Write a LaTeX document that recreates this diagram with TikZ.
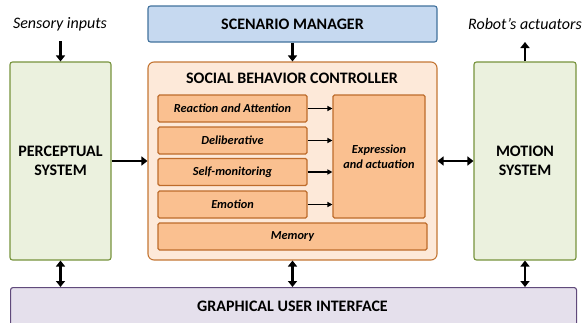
\documentclass[tikz,border=0pt]{standalone}
\usepackage{fontspec}
\setmainfont{Carlito}
\usetikzlibrary{arrows.meta}
\definecolor{scenfill}{RGB}{198,217,240}
\definecolor{scenline}{RGB}{65,113,156}
\definecolor{sbcfill}{RGB}{253,233,217}
\definecolor{sbcline}{RGB}{196,118,52}
\definecolor{subfill}{RGB}{250,192,144}
\definecolor{subline}{RGB}{190,108,44}
\definecolor{grnfill}{RGB}{235,241,222}
\definecolor{grnline}{RGB}{119,147,60}
\definecolor{guifill}{RGB}{229,224,236}
\definecolor{guiline}{RGB}{96,74,123}
\begin{document}
\begin{tikzpicture}[x=1pt,y=-1pt,
  box/.style={draw, line width=1.1pt, rounded corners=2.5pt, inner sep=0pt, align=center,
    font=\fontsize{16}{19}\selectfont\bfseries},
  greenbox/.style={box, fill=grnfill, draw=grnline},
  scenbox/.style={box, fill=scenfill, draw=scenline},
  guibox/.style={box, fill=guifill, draw=guiline},
  sbcbox/.style={box, fill=sbcfill, draw=sbcline, rounded corners=6pt},
  subbox/.style={box, fill=subfill, draw=subline, rounded corners=1.5pt,
    font=\fontsize{12.3}{15}\selectfont\bfseries\itshape},
  title/.style={inner sep=0pt, font=\fontsize{16}{19}\selectfont\bfseries},
  lbl/.style={inner sep=0pt, font=\fontsize{16}{19}\selectfont\itshape},
  bigarrow/.style={line width=2.6pt, -{Triangle[length=6pt,width=9pt]}},
  bigdbl/.style={line width=2.6pt, {Triangle[length=6pt,width=9pt]}-{Triangle[length=6pt,width=9pt]}},
  smallarrow/.style={line width=1.4pt, -{Triangle[length=5pt,width=5pt]}}]
\useasboundingbox (0,0) rectangle (582,322);

% outer blocks
\node[scenbox, minimum width=289pt, minimum height=36pt] (scen) at (292.5,24) {SCENARIO MANAGER};
\node[greenbox, minimum width=101pt, minimum height=198pt] (perc) at (60.5,161) {PERCEPTUAL\\SYSTEM};
\node[greenbox, minimum width=102pt, minimum height=198pt] (mot) at (525,161) {MOTION\\SYSTEM};
\node[sbcbox, minimum width=289pt, minimum height=198pt] (sbc) at (292.5,161) {};
\node[title] (sbct) at (292,78) {SOCIAL BEHAVIOR CONTROLLER};
\node[guibox, minimum width=566pt, minimum height=40pt, anchor=north west] (gui) at (10,287) {};
\node[title] (guit) at (292.5,306) {GRAPHICAL USER INTERFACE};

% controller modules
\node[subbox, minimum width=149pt, minimum height=27pt] (rea) at (232.5,108.5) {Reaction and Attention};
\node[subbox, minimum width=149pt, minimum height=27pt] (del) at (232.5,140.5) {Deliberative};
\node[subbox, minimum width=149pt, minimum height=27pt] (sel) at (232.5,172) {Self-monitoring};
\node[subbox, minimum width=149pt, minimum height=27pt] (emo) at (232.5,204.5) {Emotion};
\node[subbox, minimum width=269pt, minimum height=27pt] (mem) at (292.5,236.5) {Memory};
\node[subbox, minimum width=92pt, minimum height=123pt] (exp) at (379,156.5) {Expression\\and actuation};

% external labels
\node[lbl] (sens) at (60,24) {Sensory inputs};
\node[lbl] (act) at (525,24) {Robot’s actuators};
\coordinate (sensin) at (60.5,41);
\coordinate (actout) at (525,42);

% connectors
\draw[bigarrow] (sensin) -- (perc.north);
\draw[bigarrow] (mot.north) -- (actout);
\draw[bigarrow] (scen.south) -- (sbc.north);
\draw[bigarrow] (perc.east) -- (sbc.west);
\draw[bigdbl] (sbc.east) -- (mot.west);
\draw[bigdbl] (perc.south) -- (perc.south |- gui.north);
\draw[bigdbl] (sbc.south) -- (sbc.south |- gui.north);
\draw[bigdbl] (mot.south) -- (mot.south |- gui.north);
\foreach \m in {rea,del,sel,emo}
  \draw[smallarrow] (\m.east) -- (exp.west |- \m.east);
\end{tikzpicture}
\end{document}
